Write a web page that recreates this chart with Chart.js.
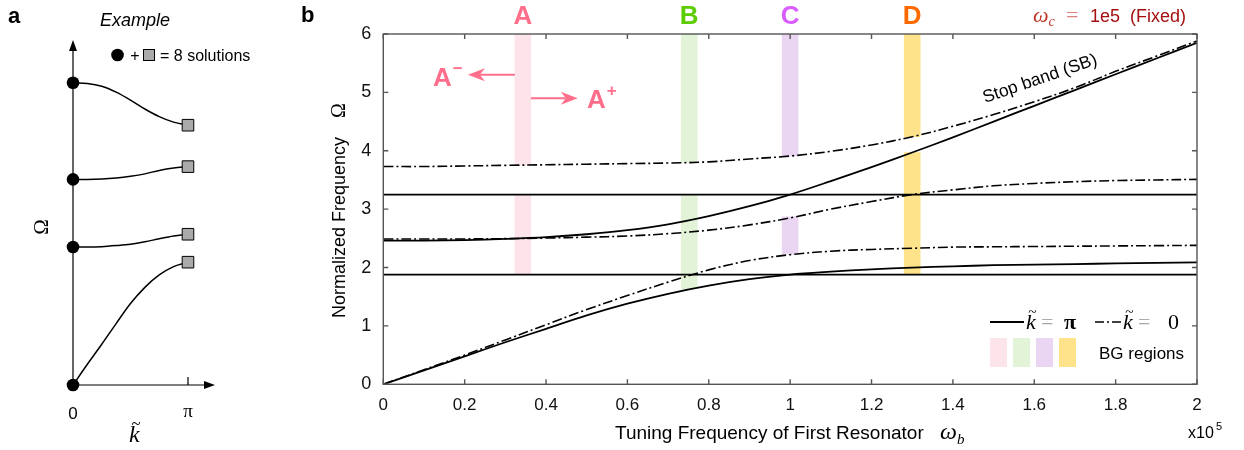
<!DOCTYPE html>
<html>
<head>
<meta charset="utf-8">
<script src="https://cdn.jsdelivr.net/npm/chart.js@4.4.0/dist/chart.umd.min.js"></script>
<style>
  html, body { margin: 0; padding: 0; background: #fff; }
  #wrap { position: relative; width: 1244px; height: 450px; }
  #wrap canvas { position: absolute; left: 0; top: 0; }
</style>
</head>
<body>
<div id="wrap">
  <canvas id="chartB" width="1244" height="450"></canvas>
  <canvas id="chartA" width="1244" height="450"></canvas>
</div>
<script>
// ---- panel b data (omega_b in units of 1e5, normalized frequency) ----
const omegaB = [0, 0.1, 0.2, 0.3, 0.4, 0.5, 0.6, 0.7, 0.8, 0.9, 1.0, 1.1, 1.2, 1.3, 1.4, 1.5, 1.6, 1.7, 1.8, 1.9, 2.0];
const piFlatLow  = [1.88, 1.88, 1.88, 1.88, 1.88, 1.88, 1.88, 1.88, 1.88, 1.88, 1.88, 1.88, 1.88, 1.88, 1.88, 1.88, 1.88, 1.88, 1.88, 1.88, 1.88];
const piFlatHigh = [3.25, 3.25, 3.25, 3.25, 3.25, 3.25, 3.25, 3.25, 3.25, 3.25, 3.25, 3.25, 3.25, 3.25, 3.25, 3.25, 3.25, 3.25, 3.25, 3.25, 3.25];
const piBand1   = [0, 0.24, 0.48, 0.72, 0.95, 1.18, 1.38, 1.55, 1.69, 1.80, 1.88, 1.93, 1.97, 2.00, 2.02, 2.04, 2.05, 2.06, 2.07, 2.08, 2.09];
const zeroBand1 = [0, 0.25, 0.50, 0.76, 1.02, 1.28, 1.52, 1.75, 1.96, 2.12, 2.22, 2.28, 2.31, 2.33, 2.35, 2.355, 2.36, 2.365, 2.37, 2.375, 2.38];
const piBand2   = [2.46, 2.46, 2.47, 2.49, 2.52, 2.57, 2.64, 2.74, 2.88, 3.05, 3.25, 3.48, 3.72, 3.97, 4.23, 4.50, 4.77, 5.04, 5.31, 5.58, 5.85];
const zeroBand2 = [2.49, 2.49, 2.49, 2.495, 2.505, 2.52, 2.54, 2.58, 2.64, 2.73, 2.85, 3.00, 3.13, 3.25, 3.33, 3.40, 3.44, 3.47, 3.49, 3.50, 3.51];
const zeroBand3 = [3.73, 3.73, 3.74, 3.75, 3.76, 3.77, 3.78, 3.79, 3.81, 3.86, 3.91, 3.99, 4.10, 4.24, 4.42, 4.62, 4.84, 5.08, 5.36, 5.62, 5.88];

// band-gap regions
const bandNames   = ['A', 'B', 'C', 'D'];
const bandCenters = [0.343, 0.752, 1.0, 1.3];
const bandUpper   = [[3.75, 6], [3.80, 6], [3.91, 6], [4.24, 6]];
const bandLower   = [[1.88, 3.25], [1.64, 3.25], [2.23, 2.87], [1.88, 3.97]];
const bandFill    = ['#fde4ea', '#e2f3d7', '#ead6f2', '#fee38b'];
const bandInk     = ['#ff6f8c', '#5ccd00', '#d95cff', '#ff6a00'];

// ---- panel a data (k in units of pi, Omega as fraction of the axis) ----
const kFrac  = [0, 0.125, 0.25, 0.375, 0.5, 0.625, 0.75, 0.875, 1];
const aBand1 = [0, 0.06, 0.118, 0.178, 0.236, 0.283, 0.319, 0.343, 0.356];
const aBand2 = [0.40, 0.400, 0.401, 0.404, 0.408, 0.415, 0.424, 0.432, 0.437];
const aBand3 = [0.596, 0.596, 0.597, 0.600, 0.605, 0.612, 0.622, 0.629, 0.633];
const aBand4 = [0.876, 0.874, 0.866, 0.849, 0.826, 0.800, 0.778, 0.762, 0.753];

const SANS = "'Liberation Sans', Arial, sans-serif";
const SERIF = "'Liberation Serif', 'DejaVu Serif', serif";
const AXIS = '#555';

function text(ctx, s, x, y, font, color, align, base) {
  ctx.font = font;
  ctx.fillStyle = color || '#000';
  ctx.textAlign = align || 'left';
  ctx.textBaseline = base || 'alphabetic';
  ctx.fillText(s, x, y);
  return ctx.measureText(s).width;
}

function arrow(ctx, x1, y1, x2, y2, color, head, half) {
  const a = Math.atan2(y2 - y1, x2 - x1);
  ctx.save();
  ctx.strokeStyle = color; ctx.fillStyle = color; ctx.lineWidth = 2;
  ctx.beginPath();
  ctx.moveTo(x1, y1);
  ctx.lineTo(x2 - Math.cos(a) * head * 0.7, y2 - Math.sin(a) * head * 0.7);
  ctx.stroke();
  ctx.translate(x2, y2); ctx.rotate(a);
  ctx.beginPath();
  ctx.moveTo(0, 0);
  ctx.lineTo(-head, -half);
  ctx.lineTo(-head * 0.7, 0);
  ctx.lineTo(-head, half);
  ctx.closePath();
  ctx.fill();
  ctx.restore();
}

function kTilde(ctx, x, y, size, color) {
  // italic k with a tilde above
  ctx.font = 'italic ' + size + 'px ' + SERIF;
  ctx.fillStyle = color || '#000';
  ctx.textAlign = 'left';
  ctx.textBaseline = 'alphabetic';
  ctx.fillText('k', x, y);
  const w = ctx.measureText('k').width;
  ctx.font = size * 0.7 + 'px ' + SERIF;
  ctx.textAlign = 'center';
  ctx.fillText('~', x + w * 0.65, y - size * 0.55);
  return w;
}

function lineDs(label, vals, dashed) {
  return {
    type: 'line', label: label,
    data: omegaB.map((x, i) => ({ x: x, y: vals[i] })),
    borderColor: '#000', borderWidth: dashed ? 1.6 : 1.8,
    borderDash: dashed ? [10, 3, 2, 3] : [],
    pointRadius: 0, tension: 0.35, fill: false, order: 1
  };
}

const bandDatasets = bandNames.map((n, i) => ({
  type: 'bar', label: 'BG ' + n,
  data: [{ x: bandCenters[i], y: bandUpper[i] }, { x: bandCenters[i], y: bandLower[i] }],
  backgroundColor: bandFill[i], borderWidth: 0, barThickness: 16, grouped: false, order: 5
}));

const decoB = {
  id: 'decoB',
  afterDraw(chart) {
    const { ctx, chartArea: ca, scales: { x, y } } = chart;
    ctx.save();
    // frame and inward ticks on all four sides
    ctx.strokeStyle = AXIS; ctx.lineWidth = 1.4;
    ctx.strokeRect(ca.left, ca.top, ca.right - ca.left, ca.bottom - ca.top);
    ctx.beginPath();
    x.ticks.forEach(t => {
      const px = x.getPixelForValue(t.value);
      ctx.moveTo(px, ca.bottom); ctx.lineTo(px, ca.bottom - 5);
      ctx.moveTo(px, ca.top); ctx.lineTo(px, ca.top + 5);
    });
    y.ticks.forEach(t => {
      const py = y.getPixelForValue(t.value);
      ctx.moveTo(ca.left, py); ctx.lineTo(ca.left + 5, py);
      ctx.moveTo(ca.right, py); ctx.lineTo(ca.right - 5, py);
    });
    ctx.stroke();

    // panel letter and band letters
    text(ctx, 'b', 301, 22, 'bold 22px ' + SANS, '#000');
    bandNames.forEach((n, i) => {
      text(ctx, n, x.getPixelForValue(bandCenters[i]), 24, 'bold 26px ' + SANS, bandInk[i], 'center');
    });

    // omega_c note
    let cx = 1033;
    cx += text(ctx, 'ω', cx, 22, 'italic 22px ' + SERIF, '#c0392b');
    text(ctx, 'c', cx, 26, 'italic 14px ' + SERIF, '#c0392b');
    text(ctx, '=', 1066, 22, '22px ' + SERIF, '#d98080');
    text(ctx, '1e5  (Fixed)', 1090, 22, '18px ' + SANS, '#a50f0f');

    // A- / A+ annotations
    const pink = bandInk[0];
    const aL = x.getPixelForValue(bandCenters[0]) - 8, aR = x.getPixelForValue(bandCenters[0]) + 8;
    arrow(ctx, aL, y.getPixelForValue(5.3), x.getPixelForValue(0.208), y.getPixelForValue(5.3), pink, 17, 6.5);
    arrow(ctx, aR, y.getPixelForValue(4.9), x.getPixelForValue(0.478), y.getPixelForValue(4.9), pink, 17, 6.5);
    let w = text(ctx, 'A', 433, 86, 'bold 26px ' + SANS, pink);
    text(ctx, '−', 433 + w + 1, 74, 'bold 17px ' + SANS, pink);
    w = text(ctx, 'A', 587, 108, 'bold 26px ' + SANS, pink);
    text(ctx, '+', 587 + w + 1, 96, 'bold 17px ' + SANS, pink);

    // stop band label
    ctx.save();
    ctx.translate(1040, 79);
    ctx.rotate(-19 * Math.PI / 180);
    text(ctx, 'Stop band (SB)', 0, 0, '17.5px ' + SANS, '#000', 'center', 'middle');
    ctx.restore();

    // axis titles
    ctx.save();
    ctx.translate(345, 0);
    ctx.rotate(-Math.PI / 2);
    text(ctx, 'Normalized Frequency', -318, 0, '18px ' + SANS, '#000', 'left', 'alphabetic');
    text(ctx, 'Ω', -118, 0, '20px ' + SERIF, '#000', 'left', 'alphabetic');
    ctx.restore();
    text(ctx, 'Tuning Frequency of First Resonator', 615, 439, '19px ' + SANS, '#000');
    text(ctx, 'ω', 940, 439, 'italic 24px ' + SERIF, '#000');
    text(ctx, 'b', 957, 444, 'italic 15px ' + SERIF, '#000');
    text(ctx, 'x10', 1188, 438, '16px ' + SANS, '#000');
    text(ctx, '5', 1216, 430, '11px ' + SANS, '#000');

    // legend
    ctx.strokeStyle = '#000'; ctx.lineWidth = 1.8;
    ctx.beginPath(); ctx.moveTo(990, 322); ctx.lineTo(1024, 322); ctx.stroke();
    kTilde(ctx, 1026, 329, 22);
    text(ctx, '=', 1041, 329, '22px ' + SERIF, '#aaa');
    text(ctx, 'π', 1064, 329, 'bold 22px ' + SERIF, '#000');
    ctx.setLineDash([9, 3, 2, 3]); ctx.lineWidth = 1.6;
    ctx.beginPath(); ctx.moveTo(1095, 322); ctx.lineTo(1121, 322); ctx.stroke();
    ctx.setLineDash([]);
    kTilde(ctx, 1123, 329, 22);
    text(ctx, '=', 1138, 329, '22px ' + SERIF, '#aaa');
    text(ctx, '0', 1168, 329, '22px ' + SERIF, '#000');
    bandFill.forEach((c, i) => {
      ctx.fillStyle = c;
      ctx.fillRect(990 + i * 23, 338, 17, 29);
    });
    text(ctx, 'BG regions', 1099, 359, '17px ' + SANS, '#000');
    ctx.restore();
  }
};

new Chart(document.getElementById('chartB'), {
  type: 'line',
  data: {
    datasets: [
      lineDs('k=pi flat 1', piFlatLow, false),
      lineDs('k=pi flat 2', piFlatHigh, false),
      lineDs('k=pi band 1', piBand1, false),
      lineDs('k=pi band 2', piBand2, false),
      lineDs('k=0 band 1', zeroBand1, true),
      lineDs('k=0 band 2', zeroBand2, true),
      lineDs('k=0 band 3', zeroBand3, true)
    ].concat(bandDatasets)
  },
  options: {
    responsive: false,
    animation: false,
    layout: { padding: { left: 300, right: 47, top: 34, bottom: 0 } },
    plugins: { legend: { display: false }, tooltip: { enabled: false } },
    scales: {
      x: {
        type: 'linear', min: 0, max: 2, offset: false,
        grid: { display: false, drawTicks: false }, border: { display: false },
        ticks: {
          stepSize: 0.2, padding: 11, maxRotation: 0, autoSkip: false,
          color: '#111', font: { family: SANS, size: 17 },
          callback: v => String(Number(v.toFixed(1)))
        },
        afterFit: s => { s.height = 65.7; }
      },
      y: {
        type: 'linear', min: 0, max: 6,
        grid: { display: false, drawTicks: false }, border: { display: false },
        ticks: { stepSize: 1, padding: 12, color: '#111', font: { family: SANS, size: 18 } },
        afterFit: s => { s.width = 83.3; }
      }
    }
  },
  plugins: [decoB]
});

// ---- panel a ----
const aBands = [aBand1, aBand2, aBand3, aBand4];

const decoA = {
  id: 'decoA',
  beforeDatasetsDraw(chart) {
    const { ctx, chartArea: ca, scales: { x, y } } = chart;
    ctx.save();
    const ox = x.getPixelForValue(0), oy = y.getPixelForValue(0);
    ctx.strokeStyle = '#000'; ctx.fillStyle = '#000'; ctx.lineWidth = 1.2;
    ctx.beginPath();
    ctx.moveTo(ox, oy); ctx.lineTo(ox, ca.top + 8);
    ctx.moveTo(ox, oy); ctx.lineTo(ca.right - 8, oy);
    const px = x.getPixelForValue(1);
    ctx.moveTo(px, oy); ctx.lineTo(px, oy - 8);
    ctx.stroke();
    ctx.beginPath();
    ctx.moveTo(ox, ca.top); ctx.lineTo(ox - 4, ca.top + 11); ctx.lineTo(ox + 4, ca.top + 11); ctx.closePath();
    ctx.moveTo(ca.right, oy); ctx.lineTo(ca.right - 11, oy - 4); ctx.lineTo(ca.right - 11, oy + 4); ctx.closePath();
    ctx.fill();
    ctx.restore();
  },
  afterDraw(chart) {
    const { ctx, scales: { x, y } } = chart;
    ctx.save();
    text(ctx, 'a', 8, 23, 'bold 22px ' + SANS, '#000');
    text(ctx, 'Example', 135, 26, 'italic 18px ' + SANS, '#000', 'center');
    // "8 solutions" key
    ctx.fillStyle = '#000';
    ctx.beginPath(); ctx.arc(117.5, 55, 6.3, 0, Math.PI * 2); ctx.fill();
    text(ctx, '+', 135, 61, '16px ' + SANS, '#000', 'center');
    ctx.fillStyle = '#aaa'; ctx.fillRect(143.5, 49.5, 11, 11);
    ctx.strokeStyle = '#000'; ctx.lineWidth = 1; ctx.strokeRect(143.5, 49.5, 11, 11);
    text(ctx, '= 8 solutions', 160, 61, '16px ' + SANS, '#000');
    // axis labels
    ctx.save();
    ctx.translate(48, 227);
    ctx.rotate(-Math.PI / 2);
    text(ctx, 'Ω', 0, 0, '21px ' + SERIF, '#000', 'center', 'alphabetic');
    ctx.restore();
    text(ctx, '0', x.getPixelForValue(0), 419, '17px ' + SANS, '#000', 'center');
    text(ctx, 'π', x.getPixelForValue(1), 417, '19px ' + SERIF, '#000', 'center');
    kTilde(ctx, 129, 442, 24);
    ctx.restore();
  }
};

new Chart(document.getElementById('chartA'), {
  type: 'line',
  data: {
    datasets: aBands.map((b, i) => ({
      label: 'band ' + (i + 1),
      data: kFrac.map((k, j) => ({ x: k, y: b[j] })),
      borderColor: '#000', borderWidth: 1.5, pointRadius: 0,
      cubicInterpolationMode: 'monotone', fill: false, clip: false, order: 2
    })).concat([
      {
        label: 'k=0 solutions', showLine: false, clip: false, order: 1,
        data: aBands.map(b => ({ x: kFrac[0], y: b[0] })),
        pointRadius: 6.3, pointBackgroundColor: '#000', pointBorderWidth: 0
      },
      {
        label: 'k=pi solutions', showLine: false, clip: false, order: 0,
        data: aBands.map(b => ({ x: kFrac[kFrac.length - 1], y: b[b.length - 1] })),
        pointStyle: 'rect', pointRadius: 8.2, pointBackgroundColor: '#aaa',
        pointBorderColor: '#000', pointBorderWidth: 1
      }
    ])
  },
  options: {
    responsive: false,
    animation: false,
    events: [],
    layout: { padding: { left: 73, right: 1029, top: 40, bottom: 65 } },
    plugins: { legend: { display: false }, tooltip: { enabled: false } },
    scales: {
      x: { type: 'linear', min: 0, max: 1.235, display: false },
      y: { type: 'linear', min: 0, max: 1, display: false }
    }
  },
  plugins: [decoA]
});
</script>
</body>
</html>
